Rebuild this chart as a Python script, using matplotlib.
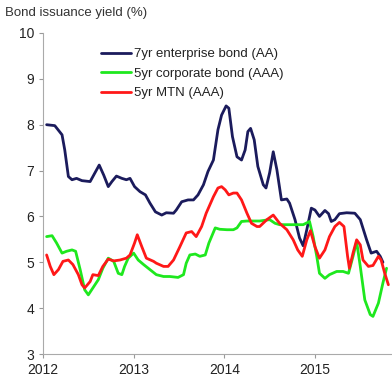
import matplotlib
matplotlib.use("Agg")
import matplotlib.pyplot as plt

plt.rcParams['font.family'] = ['Liberation Sans', 'DejaVu Sans']

# 7yr enterprise bond (AA)
ent_x = [2012.04, 2012.13, 2012.21, 2012.24, 2012.28, 2012.32, 2012.37, 2012.43, 2012.52,
         2012.57, 2012.62, 2012.67, 2012.72, 2012.76, 2012.81, 2012.87, 2012.92, 2012.96,
         2013.01, 2013.07, 2013.13, 2013.18, 2013.24, 2013.31, 2013.36, 2013.44, 2013.47,
         2013.53, 2013.60, 2013.66, 2013.71, 2013.77, 2013.82, 2013.88, 2013.93, 2013.97,
         2014.02, 2014.05, 2014.09, 2014.14, 2014.19, 2014.23, 2014.26, 2014.29, 2014.33,
         2014.37, 2014.43, 2014.46, 2014.50, 2014.54, 2014.58, 2014.63, 2014.69, 2014.72,
         2014.78, 2014.83, 2014.87, 2014.91, 2014.96, 2015.00, 2015.05, 2015.11, 2015.15,
         2015.18, 2015.22, 2015.27, 2015.35, 2015.44, 2015.50, 2015.57, 2015.62, 2015.68,
         2015.72, 2015.75]
ent_y = [8.00, 7.98, 7.78, 7.45, 6.87, 6.80, 6.83, 6.78, 6.76,
         6.94, 7.12, 6.90, 6.65, 6.76, 6.88, 6.83, 6.80, 6.83,
         6.65, 6.54, 6.47, 6.29, 6.10, 6.03, 6.08, 6.07, 6.14,
         6.32, 6.36, 6.36, 6.47, 6.69, 6.98, 7.23, 7.89, 8.21,
         8.41, 8.36, 7.74, 7.30, 7.23, 7.45, 7.85, 7.92, 7.67,
         7.09, 6.69, 6.62, 6.95, 7.41, 7.02, 6.36, 6.38, 6.29,
         5.93, 5.53, 5.36, 5.71, 6.18, 6.14, 6.00, 6.13, 6.06,
         5.89, 5.93, 6.06, 6.08, 6.07, 5.93, 5.49, 5.20, 5.24,
         5.13, 5.00]

# 5yr corporate bond (AAA)
corp_x = [2012.04, 2012.10, 2012.15, 2012.21, 2012.26, 2012.32, 2012.36, 2012.41, 2012.46,
          2012.50, 2012.55, 2012.61, 2012.66, 2012.72, 2012.78, 2012.83, 2012.87, 2012.90,
          2012.94, 2013.00, 2013.05, 2013.11, 2013.18, 2013.25, 2013.33, 2013.40, 2013.49,
          2013.55, 2013.58, 2013.62, 2013.68, 2013.73, 2013.79, 2013.83, 2013.90, 2013.95,
          2014.03, 2014.10, 2014.14, 2014.19, 2014.25, 2014.32, 2014.39, 2014.50, 2014.56,
          2014.61, 2014.69, 2014.76, 2014.87, 2014.94, 2014.98, 2015.02, 2015.05, 2015.11,
          2015.16, 2015.24, 2015.31, 2015.37, 2015.42, 2015.46, 2015.50, 2015.55, 2015.61,
          2015.64, 2015.70, 2015.75, 2015.79]
corp_y = [5.56, 5.58, 5.42, 5.20, 5.24, 5.27, 5.24, 4.84, 4.40,
          4.29, 4.44, 4.62, 4.87, 5.09, 5.02, 4.76, 4.73, 4.91,
          5.09, 5.20, 5.05, 4.95, 4.84, 4.73, 4.69, 4.69, 4.67,
          4.73, 4.98, 5.16, 5.18, 5.13, 5.16, 5.42, 5.75, 5.72,
          5.71, 5.71, 5.75, 5.89, 5.90, 5.90, 5.90, 5.93, 5.85,
          5.82, 5.82, 5.82, 5.82, 5.89, 5.56, 5.13, 4.76, 4.65,
          4.73, 4.80, 4.80, 4.76, 5.13, 5.45, 4.91, 4.18, 3.86,
          3.82, 4.11, 4.55, 4.87]

# 5yr MTN (AAA)
mtn_x = [2012.04, 2012.08, 2012.12, 2012.17, 2012.22, 2012.28, 2012.33, 2012.39, 2012.43,
         2012.46, 2012.52, 2012.55, 2012.61, 2012.66, 2012.72, 2012.78, 2012.85, 2012.92,
         2012.96, 2013.01, 2013.04, 2013.09, 2013.14, 2013.22, 2013.25, 2013.33, 2013.38,
         2013.44, 2013.51, 2013.58, 2013.64, 2013.69, 2013.75, 2013.80, 2013.88, 2013.93,
         2013.97, 2014.01, 2014.05, 2014.10, 2014.14, 2014.19, 2014.25, 2014.30, 2014.36,
         2014.39, 2014.47, 2014.54, 2014.61, 2014.69, 2014.76, 2014.81, 2014.86, 2014.91,
         2014.95, 2015.00, 2015.05, 2015.11, 2015.16, 2015.22, 2015.27, 2015.32, 2015.36,
         2015.38, 2015.42, 2015.46, 2015.50, 2015.53, 2015.59, 2015.64, 2015.70, 2015.73,
         2015.77, 2015.81]
mtn_y = [5.16, 4.91, 4.73, 4.84, 5.02, 5.05, 4.95, 4.73, 4.51,
         4.44, 4.58, 4.73, 4.71, 4.91, 5.07, 5.03, 5.05, 5.09,
         5.16, 5.42, 5.60, 5.34, 5.09, 5.02, 4.98, 4.91, 4.91,
         5.05, 5.34, 5.64, 5.67, 5.56, 5.78, 6.07, 6.43, 6.62,
         6.65, 6.58, 6.47, 6.51, 6.51, 6.36, 6.07, 5.85, 5.78,
         5.78, 5.93, 6.03, 5.85, 5.71, 5.49, 5.27, 5.13, 5.49,
         5.69, 5.34, 5.09, 5.27, 5.56, 5.78, 5.87, 5.78, 5.13,
         4.87, 5.20, 5.49, 5.38, 5.05, 4.91, 4.93, 5.13, 5.05,
         4.76, 4.51]

year_ticks = [2012, 2013, 2014, 2015]
yield_ticks = [3, 4, 5, 6, 7, 8, 9, 10]

fig = plt.figure(figsize=(3.92, 3.83), dpi=100)
ax = fig.add_axes([43 / 392, 1 - 354 / 383, 349 / 392, 321 / 383])

line_kw = dict(lw=2.0, solid_joinstyle='round', solid_capstyle='round')
ax.plot(ent_x, ent_y, color='#1b1b5c', label='7yr enterprise bond (AA)', **line_kw)
ax.plot(corp_x, corp_y, color='#1ee81e', label='5yr corporate bond (AAA)', **line_kw)
ax.plot(mtn_x, mtn_y, color='#ff1818', label='5yr MTN (AAA)', **line_kw)

ax.set_xlim(2012, 2015.85)
ax.set_ylim(3, 10)
ax.set_xticks(year_ticks)
ax.set_yticks(yield_ticks)
ax.tick_params(colors='#999999', labelcolor='#222222', labelsize=10, length=3, width=0.8)
for side in ['top', 'right']:
    ax.spines[side].set_visible(False)
for side in ['left', 'bottom']:
    ax.spines[side].set_color('#aaaaaa')
    ax.spines[side].set_linewidth(0.8)

leg = ax.legend(loc='upper left', bbox_to_anchor=(0.15, 0.97), frameon=False,
                fontsize=9.5, handlelength=2.3, handletextpad=0.2, labelspacing=0.55,
                borderaxespad=0)
for t in leg.get_texts():
    t.set_color('#222222')

fig.text(5 / 392, 1 - 13 / 383, 'Bond issuance yield (%)', fontsize=9.5, color='#333333',
         va='center', ha='left')

fig.savefig('out.png', dpi=100)
